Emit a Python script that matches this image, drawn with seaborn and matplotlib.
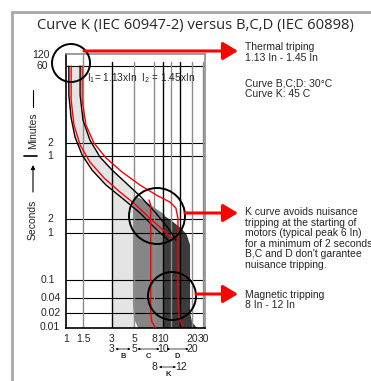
import numpy as np
import seaborn as sns
import matplotlib
matplotlib.use('Agg')
import matplotlib.pyplot as plt
import matplotlib.transforms as mtransforms
from matplotlib.patches import Circle

# ---- data: current in multiples of In, time in seconds ----
x_ticks = [1, 1.5, 3, 5, 8, 10, 20, 30]
x_tick_labels = ['1', '1.5', '3', '5', '8', '10', '20', '30']
y_ticks = [0.01, 0.02, 0.04, 0.1, 1, 2, 60, 120, 3600, 7200]
y_tick_labels = ['0.01', '0.02', '0.04', '0.1', '1', '2', '1', '2', '60', '120']
h_lines = [3600, 120, 60, 2, 1, 0.1, 0.04, 0.02]
v_lines = [1.5, 3, 5, 8, 10, 12, 15, 20, 30]

# thermal band of curves B, C, D (black)
tl_x = [1.07, 1.07, 1.13, 1.24, 1.47, 1.86, 2.60, 3.79, 5.76, 8.2, 11.3]
tl_t = [3600, 1000, 362, 156, 63, 28.2, 12.5, 6.21, 2.77, 1.28, 0.71]
tr_x = [1.40, 1.40, 1.50, 1.77, 2.25, 3.0, 4.15, 5.76, 8.2, 11.3, 13.6]
tr_t = [3600, 1000, 331, 137, 56.8, 28.2, 14.0, 6.92, 2.92, 1.28, 0.71]

# curve K (red): thermal limits and magnetic limits 8 In / 12 In
kl_x = [1.13, 1.13, 1.21, 1.40, 1.77, 2.48, 3.61, 5.24, 7.28, 12.4]
kl_t = [3600, 802, 266, 108, 43.4, 18.3, 8.59, 4.26, 2.07, 0.78]
k8_x = [7.1, 7.4, 7.4, 7.6, 8.3]
k8_t = [5.6, 4.3, 0.02, 0.013, 0.0098]
kr_x = [1.47, 1.47, 1.61, 1.95, 2.60, 3.79, 5.76, 8.84, 11.8, 13.6, 14.3, 14.3, 14.7, 16.1]
kr_t = [3600, 802, 266, 120, 53.9, 25.3, 12.5, 6.92, 5.0, 3.62, 2.07, 0.0365, 0.0156, 0.0105]

# magnetic bands
c_x = [5.50, 5.0, 4.89, 4.89, 5.12, 6.47, 8.2, 10.5, 10.5]
c_t = [0.0095, 0.0156, 0.029, 5.58, 6.92, 5.28, 3.62, 2.5, 0.0095]
d_x = [10, 10, 12.4, 15.7, 17.7, 19.1, 19.1, 20, 24.0]
d_t = [0.0095, 2.48, 1.81, 1.22, 0.906, 0.556, 0.0205, 0.0128, 0.0095]

range_names = ['B', 'C', 'D']
range_lo = [3, 5, 10]
range_hi = [5, 10, 20]
k_lo, k_hi = 8, 12

# ---- non-uniform axes of the original drawing (value -> pixel) ----
x_anchor_px = [66, 83, 112, 134, 154, 163, 192, 203]
y_anchor_px = [327, 313, 298, 280, 233, 219, 156, 143, 66, 55]


def make_scale(vals, pos):
    lv = np.log10(vals)
    pos = np.asarray(pos, float)
    lv = np.r_[lv[0] - (lv[1] - lv[0]) * 50, lv, lv[-1] + (lv[-1] - lv[-2]) * 50]
    pos = np.r_[pos[0] - (pos[1] - pos[0]) * 50, pos, pos[-1] + (pos[-1] - pos[-2]) * 50]

    def fwd(v):
        v = np.clip(np.asarray(v, float), 1e-12, None)
        return np.interp(np.log10(v), lv, pos)

    def inv(p):
        return 10 ** np.interp(p, pos, lv)
    return fwd, inv


fx, ix = make_scale(x_ticks, x_anchor_px)
fy, iy = make_scale(y_ticks, [-p for p in y_anchor_px])

sns.set_style('white')
plt.rcParams['font.family'] = ['Liberation Sans', 'DejaVu Sans']
plt.rcParams['mathtext.fontset'] = 'custom'
plt.rcParams['mathtext.rm'] = 'Liberation Sans'
plt.rcParams['mathtext.it'] = 'Liberation Sans:italic'

W, H = 371, 381
fig = plt.figure(figsize=(W / 100, H / 100), dpi=100)
ax = fig.add_axes([66 / W, 1 - 328 / H, (205 - 66) / W, (328 - 54) / H])
ax.set_xscale('function', functions=(fx, ix))
ax.set_yscale('function', functions=(fy, iy))
ymin, ymax = iy(-328), iy(-54)
ax.set_xlim(1, ix(205))
ax.set_ylim(ymin, ymax)


def t_on(cx, ct, x):
    return 10 ** np.interp(np.log10(x), np.log10(cx), np.log10(ct))


# light grey band: thermal zone + magnetic zone of curve B
tlx, tlt, trx, trt = map(np.array, (tl_x, tl_t, tr_x, tr_t))
kl = tlx < range_lo[0]
kr = trx < range_hi[0]
b_x = list(tlx[kl]) + [range_lo[0], range_lo[0], range_hi[0], range_hi[0]] + list(trx[kr][::-1])
b_t = list(tlt[kl]) + [t_on(tl_x[2:], tl_t[2:], range_lo[0]), ymin, ymin,
                       t_on(tr_x[2:], tr_t[2:], range_hi[0])] + list(trt[kr][::-1])
ax.fill(b_x, b_t, color='#e4e4e4', lw=0, zorder=1)
ax.fill(c_x, c_t, color='#858585', lw=0, zorder=1.1)
ax.fill(d_x, d_t, color='#3b3b3b', lw=0, zorder=1.2)

# grid
for t in h_lines:
    ax.axhline(t, color='black', lw=0.8, zorder=2)
top_tick = iy(-62)
for v in v_lines:
    c = 'black' if v in (3, 10, 15) else '#8c8c8c'
    if v == 1.5:
        ax.axvline(v, color=c, lw=1.0, zorder=2)
    else:
        ax.plot([v, v], [ymin, top_tick], color=c, lw=1.0, zorder=2)

sns.lineplot(x=tl_x, y=tl_t, sort=False, estimator=None, color='black', lw=1.0, ax=ax, zorder=3)
sns.lineplot(x=tr_x, y=tr_t, sort=False, estimator=None, color='black', lw=1.0, ax=ax, zorder=3)
for cx, ct in [(kl_x, kl_t), (k8_x, k8_t), (kr_x, kr_t)]:
    sns.lineplot(x=cx, y=ct, sort=False, estimator=None, color='#ff0000', lw=1.0, ax=ax, zorder=4)

ax.text(1.65, iy(-78), r'I$_1$= 1.13xIn  I$_2$ = 1.45xIn', fontsize=7.3, va='center', zorder=5)

# ticks
ax.set_xticks(x_ticks, x_tick_labels)
ax.minorticks_off()
ax.tick_params(axis='x', length=0, pad=4, labelsize=7.5)
ax.set_yticks([])
y_label_right_px = [60, 61, 61, 55, 53, 53, 53, 53, 48, 50]
ytr = ax.get_yaxis_transform()
for t, lab, rp in zip(y_ticks, y_tick_labels, y_label_right_px):
    ax.text((rp - 66) / 139, t, lab, transform=ytr, ha='right', va='center',
            fontsize=7.5, clip_on=False)

for s in ['top', 'right']:
    ax.spines[s].set_color('#8c8c8c')
for s in ['left', 'bottom']:
    ax.spines[s].set_color('black')
for s in ax.spines.values():
    s.set_linewidth(1.2)

# ranges under the axis
blend = mtransforms.blended_transform_factory(ax.transData, ax.transAxes)
row1 = (328 - 349) / 274
for v in sorted(set(range_lo + range_hi)):
    ax.text(v, row1, str(v), transform=blend, ha='center', va='center', fontsize=7.5, clip_on=False)
for name, lo, hi in zip(range_names, range_lo, range_hi):
    ax.annotate('', xy=(hi, row1), xytext=(lo, row1), xycoords=blend, textcoords=blend,
                arrowprops=dict(arrowstyle='<|-|>', lw=0.5, color='black', mutation_scale=3,
                                shrinkA=2.5, shrinkB=2.5))
    ax.text(np.sqrt(lo * hi), (328 - 357) / 274, name, transform=blend, ha='center', va='center',
            fontsize=5.5, fontweight='bold', clip_on=False)

# overlay in pixel coordinates for the annotations
ov = fig.add_axes([0, 0, 1, 1])
ov.set_xlim(0, W)
ov.set_ylim(H, 0)
ov.axis('off')

ov.plot([11.5, 11.5], [H, 11.5], color='#a8a8a8', lw=2)
ov.plot([11.5, W], [11.5, 11.5], color='#a8a8a8', lw=2)
ov.text(195, 25, 'Curve K (IEC 60947-2) versus B,C,D (IEC 60898)', ha='center', va='center',
        fontsize=10.6, family='Open Sans', color='#262626')

ov.text(154, 367, str(k_lo), ha='center', va='center', fontsize=7.5)
ov.text(181, 367, str(k_hi), ha='center', va='center', fontsize=7.5)
ov.annotate('', xy=(176, 367), xytext=(159, 367),
            arrowprops=dict(arrowstyle='<|-|>', lw=0.5, color='black', mutation_scale=3,
                            shrinkA=0, shrinkB=0))
ov.text(168, 375, 'K', ha='center', va='center', fontsize=5.5, fontweight='bold')

for (cx, cy, r) in [(71, 63, 19), (157, 216, 28), (172, 296, 24)]:
    ov.add_patch(Circle((cx, cy), r, fill=False, ec='black', lw=1.4))

for (x0, y0) in [(84, 51), (185, 213), (196, 294)]:
    ov.annotate('', xy=(238, y0), xytext=(x0, y0),
                arrowprops=dict(arrowstyle='-|>,head_length=0.75,head_width=0.45', color='#ff0000',
                                lw=2.2, mutation_scale=12, shrinkA=0, shrinkB=0))

ov.text(245, 42, 'Thermal triping\n1.13 In - 1.45 In', va='top', fontsize=7.5, linespacing=1.1)
ov.text(245, 78, 'Curve B,C;D: 30°C\nCurve K: 45 C', va='top', fontsize=7.5, linespacing=1.1)
ov.text(245, 207, "K curve avoids nuisance\ntripping at the starting of\nmotors (typical peak 6 In)\n"
        "for a minimum of 2 seconds\nB,C and D don't garantee\nnuisance tripping.",
        va='top', fontsize=7.5, linespacing=1.07)
ov.text(245, 290, 'Magnetic tripping\n8 In - 12 In', va='top', fontsize=7.5, linespacing=1.0)

ov.text(33, 131, 'Minutes', rotation=90, ha='center', va='center', fontsize=7.5)
ov.text(33, 220, 'Seconds', rotation=90, ha='center', va='center', fontsize=7.5)
ov.plot([33, 33], [90, 107], color='black', lw=0.8)
ov.plot([24, 37], [156, 156], color='black', lw=1.2)
ov.annotate('', xy=(33, 165), xytext=(33, 192),
            arrowprops=dict(arrowstyle='-|>', lw=0.8, color='black', mutation_scale=6,
                            shrinkA=0, shrinkB=0))

fig.savefig('out.png', dpi=100)
